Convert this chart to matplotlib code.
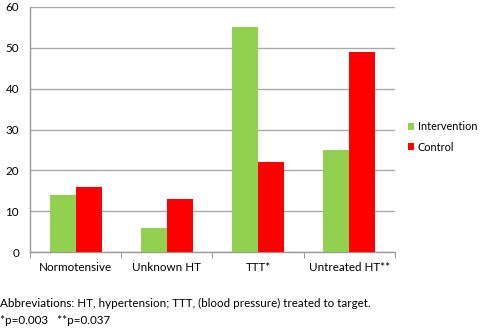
import matplotlib
matplotlib.use("Agg")
import matplotlib.pyplot as plt
import numpy as np

categories = ["Normotensive", "Unknown HT", "TTT*", "Untreated HT**"]
intervention = [14, 6, 55, 25]
control = [16, 13, 22, 49]
yticks = [0, 10, 20, 30, 40, 50, 60]

plt.rcParams['font.family'] = ['Lato', 'DejaVu Sans']
fs = 8.4

fig = plt.figure(figsize=(4.8, 3.3), dpi=100)
ax = fig.add_axes([0.0625, 0.236, 0.76, 0.743])

x = np.arange(len(categories))
w = 0.285
ax.bar(x - w/2, intervention, w, color="#92D050", label="Intervention", zorder=3)
ax.bar(x + w/2, control, w, color="#FF0000", label="Control", zorder=3)

ax.set_xlim(-0.5, len(categories) - 0.5)
ax.set_ylim(0, 60)
ax.set_yticks(yticks)
ax.set_yticklabels([str(v) for v in yticks], fontsize=fs)
ax.yaxis.grid(True, color="#aaaaaa", linewidth=1, zorder=0)
ax.tick_params(axis='y', length=0, pad=8)

ax.set_xticks(x)
ax.set_xticklabels(categories, fontsize=fs)
ax.set_xticks(np.arange(-0.5, len(categories)), minor=True)
ax.tick_params(axis='x', which='major', length=0, pad=7)
ax.tick_params(axis='x', which='minor', length=4, color="#888888", direction='out')

for s in ["top", "right"]:
    ax.spines[s].set_visible(False)
for s in ["left", "bottom"]:
    ax.spines[s].set_color("#999999")
    ax.spines[s].set_linewidth(1)

leg = ax.legend(loc="center left", bbox_to_anchor=(1.035, 0.47), frameon=False,
                fontsize=7.8, handlelength=0.6, handleheight=0.6, handletextpad=0.35,
                labelspacing=0.9, borderaxespad=0, borderpad=0)

fig.text(0.0, (330 - 303) / 330, "Abbreviations: HT, hypertension; TTT, (blood pressure) treated to target.",
         fontsize=fs, va="center", ha="left")
fig.text(0.0, (330 - 321) / 330, "*p=0.003   **p=0.037", fontsize=fs, va="center", ha="left")

fig.savefig("out.png", dpi=100)
